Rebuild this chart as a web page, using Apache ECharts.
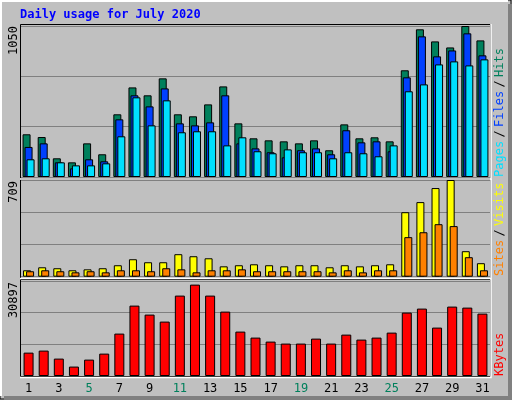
<!DOCTYPE html>
<html><head><meta charset="utf-8">
<script src="https://cdn.jsdelivr.net/npm/echarts@6/dist/echarts.min.js"></script>
<style>html,body{margin:0;padding:0;background:#fff}#c{width:512px;height:400px}</style>
</head><body><div id="c"></div>
<script>
const days = ['1','2','3','4','5','6','7','8','9','10','11','12','13','14','15','16','17','18','19','20','21','22','23','24','25','26','27','28','29','30','31'];
const weekend = ['4','5','11','12','18','19','25','26'];
const hits  = [297,278,130,102,234,158,436,623,568,686,436,422,505,630,373,269,255,248,234,255,186,366,269,276,248,742,1027,943,901,1050,950];
const files = [209,234,102,60,123,109,401,568,491,616,373,359,380,568,234,199,172,137,186,199,158,325,241,248,179,693,978,839,880,999,846];
const pages = [123,130,102,81,81,95,283,554,359,533,311,318,318,220,276,179,165,192,172,172,130,172,165,144,220,596,644,783,804,776,818];
const visits = [47,69,62,47,54,62,84,128,106,106,165,150,135,76,84,91,84,76,84,84,69,84,76,84,91,473,547,650,709,187,99];
const sites  = [40,47,40,32,40,32,47,47,40,62,54,32,47,47,54,40,40,40,40,40,32,47,32,47,47,290,326,385,371,143,47];
const kbytes = [7600,8260,5660,3060,5330,7280,13790,22890,19970,17690,26150,29720,26150,20940,14440,12490,11190,10540,10540,12160,10540,13460,11840,12490,14110,20620,21920,15740,22570,22240,20290];
const maxLabels = ['1050','709','30897'];

const ch = echarts.init(document.getElementById('c'), null, {renderer:'canvas'});
const F = 'DejaVu Sans Mono';
const grids = [
  {left:21, top:26, width:469, height:151},
  {left:21, top:180, width:469, height:96.7},
  {left:21, top:281, width:469, height:95}
];
const maxes = [1050, 709, 30897];
const xAxes = grids.map((g,i)=>({type:'category', gridIndex:i, data:days,
  axisLine:{show:false}, axisTick:{show:false},
  axisLabel: i===2 ? {show:true, fontFamily:F, fontSize:12, color:(v)=>weekend.includes(v)?'#00805C':'#000', margin:7} : {show:false}
}));
const yAxes = grids.map((g,i)=>({type:'value', gridIndex:i, min:0, max:maxes[i], interval:maxes[i]/3,
  axisLine:{show:false}, axisTick:{show:false}, axisLabel:{show:false},
  splitLine:{show:true, lineStyle:{color:'#808080', width:1}}
}));
const bs = (color)=>({color, borderColor:'#000', borderWidth:1});
const series = [
  {type:'bar', xAxisIndex:0, yAxisIndex:0, data:hits, barWidth:8, barGap:'-75%', itemStyle:bs('#00805C')},
  {type:'bar', xAxisIndex:0, yAxisIndex:0, data:files, barWidth:8, barGap:'-75%', itemStyle:bs('#0040FF')},
  {type:'bar', xAxisIndex:0, yAxisIndex:0, data:pages, barWidth:8, barGap:'-75%', itemStyle:bs('#00E0FF')},
  {type:'bar', xAxisIndex:1, yAxisIndex:1, data:visits, barWidth:8, barGap:'-62%', itemStyle:bs('#FFFF00')},
  {type:'bar', xAxisIndex:1, yAxisIndex:1, data:sites, barWidth:8, barGap:'-62%', itemStyle:bs('#FF8000')},
  {type:'bar', xAxisIndex:2, yAxisIndex:2, data:kbytes, barWidth:10, itemStyle:bs('#FF0000')}
];
const rot = Math.PI/2;
const graphic = [
  {type:'rect', shape:{x:0,y:0,width:511,height:399}, style:{fill:'#C0C0C0', stroke:'#000', lineWidth:1}, z:-10},
  {type:'rect', shape:{x:508,y:4,width:4,height:396}, style:{fill:'#808080'}, z:-9},
  {type:'rect', shape:{x:4,y:396,width:508,height:4}, style:{fill:'#808080'}, z:-9},
  {type:'polyline', shape:{points:[[1,396],[1,1],[508,1]]}, style:{stroke:'#fff', lineWidth:2, fill:null}, z:-8},
  // panel borders
  {type:'rect', shape:{x:20.5,y:24.5,width:470,height:154}, style:{fill:null, stroke:'#000', lineWidth:1}, z:10},
  {type:'rect', shape:{x:20.5,y:179.5,width:470,height:99}, style:{fill:null, stroke:'#000', lineWidth:1}, z:10},
  {type:'rect', shape:{x:20.5,y:279.5,width:470,height:97}, style:{fill:null, stroke:'#000', lineWidth:1}, z:10},
  {type:'polyline', shape:{points:[[20,179],[491,179],[491,24]]}, style:{stroke:'#fff', lineWidth:1.5, fill:null}, z:11},
  {type:'polyline', shape:{points:[[20,278.5],[491,278.5],[491,179]]}, style:{stroke:'#fff', lineWidth:1.5, fill:null}, z:11},
  {type:'polyline', shape:{points:[[20,377.5],[491,377.5],[491,279]]}, style:{stroke:'#fff', lineWidth:1.5, fill:null}, z:11},
  {type:'text', x:20, y:15, style:{text:'Daily usage for July 2020', fill:'#0000FF', font:'bold 12px "'+F+'"', verticalAlign:'middle'}},
  {type:'text', x:14, y:26, rotation:rot, style:{text:maxLabels[0], fill:'#000', font:'12px "'+F+'"', align:'right', verticalAlign:'middle'}},
  {type:'text', x:14, y:181, rotation:rot, style:{text:maxLabels[1], fill:'#000', font:'12px "'+F+'"', align:'right', verticalAlign:'middle'}},
  {type:'text', x:14, y:282, rotation:rot, style:{text:maxLabels[2], fill:'#000', font:'12px "'+F+'"', align:'right', verticalAlign:'middle'}},
  {type:'text', x:500, y:177, rotation:rot, style:{
    text:'{p|Pages} {s|/} {f|Files} {s|/} {h|Hits}', align:'left', verticalAlign:'middle',
    rich:{p:{fill:'#00E0FF',font:'12px "'+F+'"'},f:{fill:'#0040FF',font:'12px "'+F+'"'},h:{fill:'#00805C',font:'12px "'+F+'"'},s:{fill:'#000',font:'12px "'+F+'"'}}}},
  {type:'text', x:500, y:276, rotation:rot, style:{
    text:'{a|Sites} {s|/} {v|Visits}', align:'left', verticalAlign:'middle',
    rich:{a:{fill:'#FF8000',font:'12px "'+F+'"'},v:{fill:'#FFFF00',font:'12px "'+F+'"'},s:{fill:'#000',font:'12px "'+F+'"'}}}},
  {type:'text', x:500, y:376, rotation:rot, style:{text:'KBytes', fill:'#FF0000', font:'12px "'+F+'"', align:'left', verticalAlign:'middle'}}
];
ch.setOption({animation:false, backgroundColor:'#C0C0C0', grid:grids, xAxis:xAxes, yAxis:yAxes, series, graphic});
</script></body></html>
